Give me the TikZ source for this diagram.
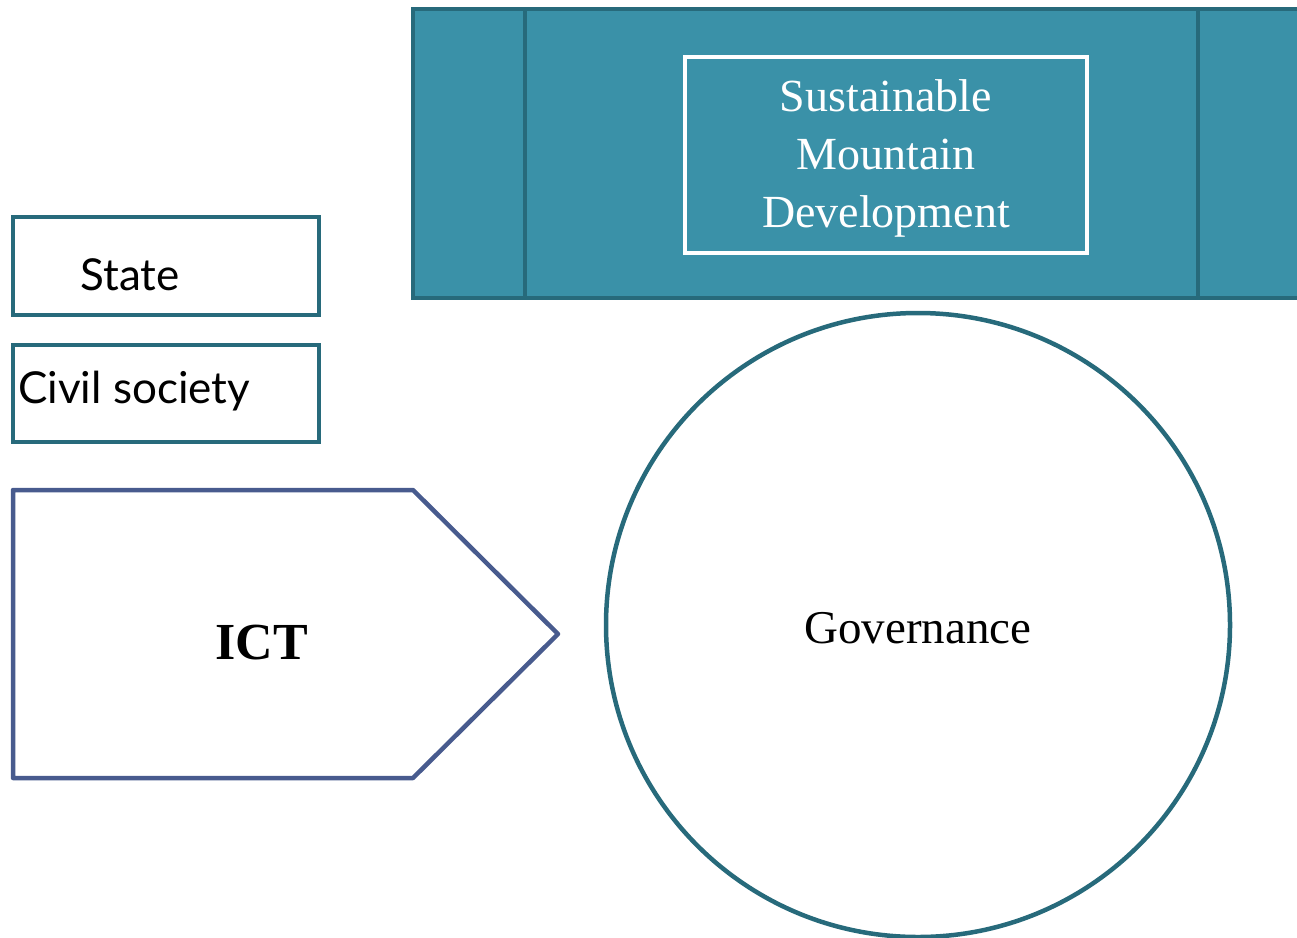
\documentclass[tikz,border=0pt]{standalone}
\usepackage{fontspec}
\setmainfont{Liberation Serif}
\newfontfamily\gillfont{Lato}
\definecolor{tealfill}{HTML}{3A91A8}
\definecolor{tealdark}{HTML}{276A7B}
\definecolor{ictblue}{HTML}{485B8E}
\tikzset{
  boxline/.style={draw=tealdark, line width=4.5pt, outer sep=0pt, inner sep=0pt, anchor=north west},
  smalltext/.style={font=\gillfont\fontsize{44}{52}\selectfont, text=black},
}
\begin{document}
\begin{tikzpicture}[x=1pt,y=-1pt]
\useasboundingbox (0,0) rectangle (1297,937);
% top teal band
\path[fill=tealfill, draw=tealdark, line width=4.5pt] (413,9) rectangle (1310,298);
\draw[tealdark, line width=4.5pt] (525,9) -- (525,298);
\draw[tealdark, line width=4.5pt] (1198,9) -- (1198,298);
\node[draw=white, line width=3.5pt, minimum width=402pt, minimum height=196pt, inner sep=0pt, outer sep=0pt, anchor=north west] (smd) at (685,57) {};
\node[align=center, text=white, font=\fontsize{46}{58}\selectfont, yshift=-3pt] (smdtext) at (smd.center) {Sustainable\\Mountain\\Development};
% left boxes
\node[boxline, minimum width=306pt, minimum height=98pt] (state) at (13,217) {};
\node[smalltext, anchor=base] at (130,290) {State};
\node[boxline, minimum width=306pt, minimum height=97pt] (civil) at (13,345) {};
\node[smalltext, anchor=base west, inner sep=0pt] at (18,403) {Civil society};
% ICT pentagon
\draw[ictblue, line width=4.5pt, line join=round] (13,490) -- (413,490) -- (558,634) -- (413,778) -- (13,778) -- cycle;
\node[font=\bfseries\fontsize{52}{60}\selectfont] (ict) at (262,643) {ICT};
% Governance circle
\node[circle, draw=tealdark, line width=4.5pt, minimum size=624pt, inner sep=0pt] (gov) at (918,625) {};
\node[font=\fontsize{47}{55}\selectfont] at (918,628) {Governance};
\end{tikzpicture}
\end{document}
